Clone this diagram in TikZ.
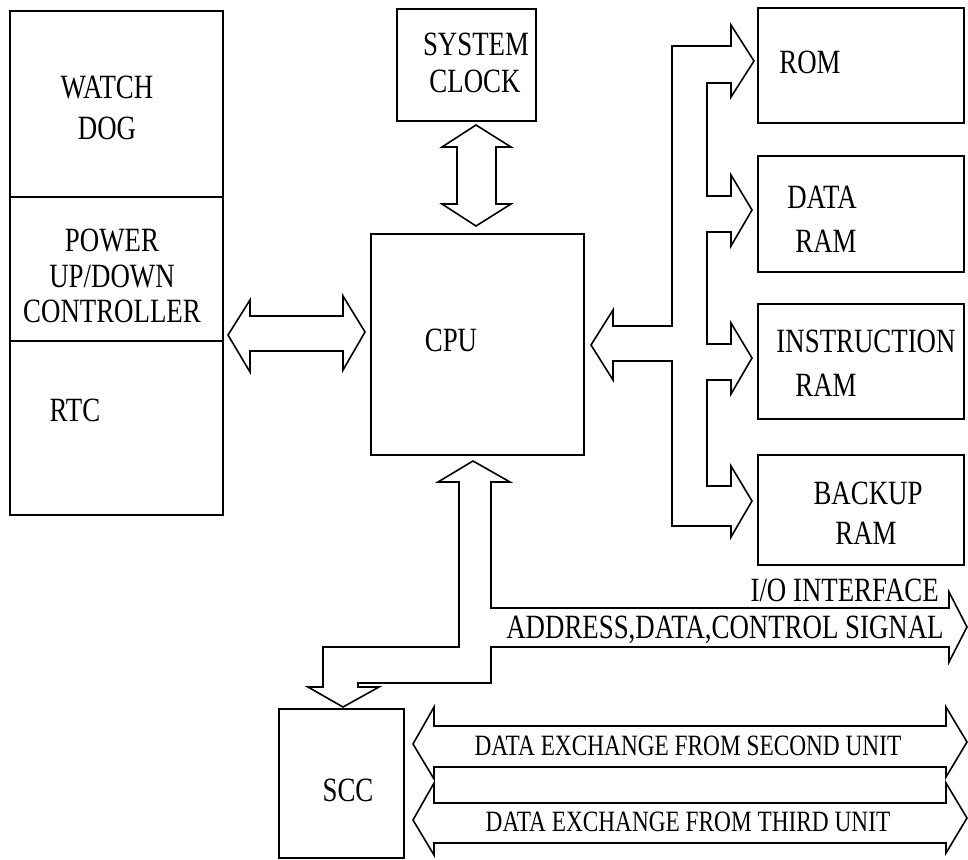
\documentclass[tikz,border=0pt]{standalone}
\usepackage{fontspec}
\setmainfont{Liberation Serif}[FakeStretch=0.79]
\begin{document}
\begin{tikzpicture}[x=1pt,y=-1pt,line join=miter,
  box/.style={draw,line width=1.6pt,inner sep=0pt,anchor=north west},
  bus/.style={draw,line width=1.6pt},
  lbl/.style={inner sep=0pt,font=\fontsize{34}{34}\selectfont},
  small/.style={inner sep=0pt,font=\fontsize{29.5}{29.5}\selectfont}]
\useasboundingbox (0,0) rectangle (968,859);

% ---- left stacked block ----
\node[box,minimum width=213pt,minimum height=186pt] (wd)  at (9,10)  {};
\node[box,minimum width=213pt,minimum height=144pt] (pwr) at (9,196) {};
\node[box,minimum width=213pt,minimum height=174pt] (rtc) at (9,340) {};
\node[lbl] (wd1) at (107,88)  {WATCH};
\node[lbl] (wd2) at (107,128) {DOG};
\node[lbl] (pw1) at (112,240) {POWER};
\node[lbl] (pw2) at (112,276) {UP/DOWN};
\node[lbl] (pw3) at (112,311) {CONTROLLER};
\node[lbl] (rt1) at (75,410)  {RTC};

% ---- clock and cpu ----
\node[box,minimum width=139pt,minimum height=112pt] (clk) at (396,8) {};
\node[lbl] (ck1) at (476,44) {SYSTEM};
\node[lbl] (ck2) at (475,81) {CLOCK};
\node[box,minimum width=213pt,minimum height=221pt] (cpu) at (370,233) {};
\node[lbl] (cp1) at (451,340) {CPU};

% ---- memories ----
\node[box,minimum width=206pt,minimum height=115pt] (rom)  at (757,7)   {};
\node[box,minimum width=206pt,minimum height=116pt] (dram) at (757,155) {};
\node[box,minimum width=206pt,minimum height=115pt] (iram) at (757,303) {};
\node[box,minimum width=206pt,minimum height=110pt] (bram) at (757,454) {};
\node[lbl] (rm1) at (810,62)  {ROM};
\node[lbl] (dr1) at (822,197) {DATA};
\node[lbl] (dr2) at (826,241) {RAM};
\node[lbl] (ir1) at (866,341) {INSTRUCTION};
\node[lbl] (ir2) at (826,385) {RAM};
\node[lbl] (br1) at (868,493) {BACKUP};
\node[lbl] (br2) at (866,533) {RAM};

% ---- scc ----
\node[box,minimum width=125pt,minimum height=149pt] (scc) at (278,708) {};
\node[lbl] (sc1) at (348,790) {SCC};

% ---- buses ----
% left block <-> cpu
\draw[bus] (228,335) -- (250,300) -- (250,316) -- (343,316) -- (343,296)
  -- (365,332) -- (343,370) -- (343,351) -- (250,351) -- (250,372) -- cycle;
% clock <-> cpu
\draw[bus] (476,125) -- (511,147) -- (496,147) -- (496,204) -- (511,204)
  -- (476,226) -- (442,204) -- (457,204) -- (457,147) -- (442,147) -- cycle;
% cpu <-> memory comb
\draw[bus] (591,345) -- (613,310) -- (613,326) -- (672,326) -- (672,46)
  -- (731,46) -- (731,25) -- (754,61) -- (731,97) -- (731,83) -- (707,83)
  -- (707,196) -- (731,196) -- (731,175) -- (752,210) -- (731,246) -- (731,232) -- (707,232)
  -- (707,344) -- (731,344) -- (731,323) -- (752,358) -- (731,394) -- (731,380) -- (707,380)
  -- (707,486) -- (731,486) -- (731,466) -- (752,501) -- (731,537) -- (731,526)
  -- (672,526) -- (672,361) -- (613,361) -- (613,380) -- cycle;
% cpu <-> i/o interface and scc
\draw[bus] (473,461) -- (510,482) -- (491,482) -- (491,608) -- (949,608)
  -- (949,592) -- (967,627) -- (949,662) -- (949,647) -- (491,647) -- (491,683)
  -- (358,683) -- (358,687) -- (379,687) -- (343,707) -- (308,687) -- (323,687)
  -- (323,647) -- (459,647) -- (459,482) -- (438,482) -- cycle;
\node[lbl,anchor=east] (io1) at (939,590) {I/O INTERFACE};
\node[lbl] (io2) at (725,630) {ADDRESS,DATA,CONTROL SIGNAL};

% scc data exchange links
\draw[bus] (413,744) -- (434,707) -- (434,726) -- (946,726) -- (946,707)
  -- (967,742) -- (946,777) -- (946,767) -- (434,767) -- (434,779) -- cycle;
\draw[bus] (413,820) -- (434,783) -- (434,803) -- (946,803) -- (946,783)
  -- (967,818) -- (946,853) -- (946,843) -- (434,843) -- (434,855) -- cycle;
\node[small] (dx1) at (688,746) {DATA EXCHANGE FROM SECOND UNIT};
\node[small] (dx2) at (688,822) {DATA EXCHANGE FROM THIRD UNIT};
\end{tikzpicture}
\end{document}
